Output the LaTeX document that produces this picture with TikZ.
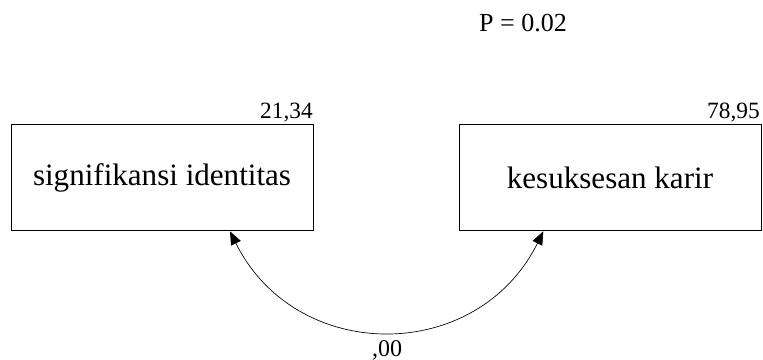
\documentclass[tikz,border=0pt]{standalone}
\usepackage{fontspec}
\setmainfont{Liberation Serif}
\usetikzlibrary{arrows.meta}
\begin{document}
\begin{tikzpicture}[x=0.75pt,y=-0.75pt,
  varbox/.style={draw=black,line width=0.75pt,minimum width=226.5pt,minimum height=80pt,inner sep=0pt,font=\fontsize{23.3}{27}\selectfont},
  numlbl/.style={inner sep=0pt,anchor=base east,font=\fontsize{17.5}{21}\selectfont},
  corr/.style={line width=0.5pt,{Triangle[length=10pt,width=8pt]}-{Triangle[length=10pt,width=8pt]}}]
\useasboundingbox (0,0) rectangle (763,360);
\node[varbox] (si) at (162,177.5) {signifikansi identitas};
\node[varbox] (kk) at (610,177.5) {kesuksesan karir};
\node[numlbl] (l1) at (313,118) {21,34};
\node[numlbl] (l2) at (760,118) {78,95};
\node[inner sep=0pt,anchor=base,font=\fontsize{19.5}{23}\selectfont] (p) at (523,31.5) {P = 0.02};
\coordinate (a1) at ([xshift=51pt]si.south);
\coordinate (a2) at ([xshift=-50pt]kk.south);
\draw[corr] (a1) .. controls +(66,133) and +(-66,133) .. (a2);
\node[inner sep=0pt,anchor=base,font=\fontsize{18}{22}\selectfont] (c) at (387,356) {,00};
\end{tikzpicture}
\end{document}
